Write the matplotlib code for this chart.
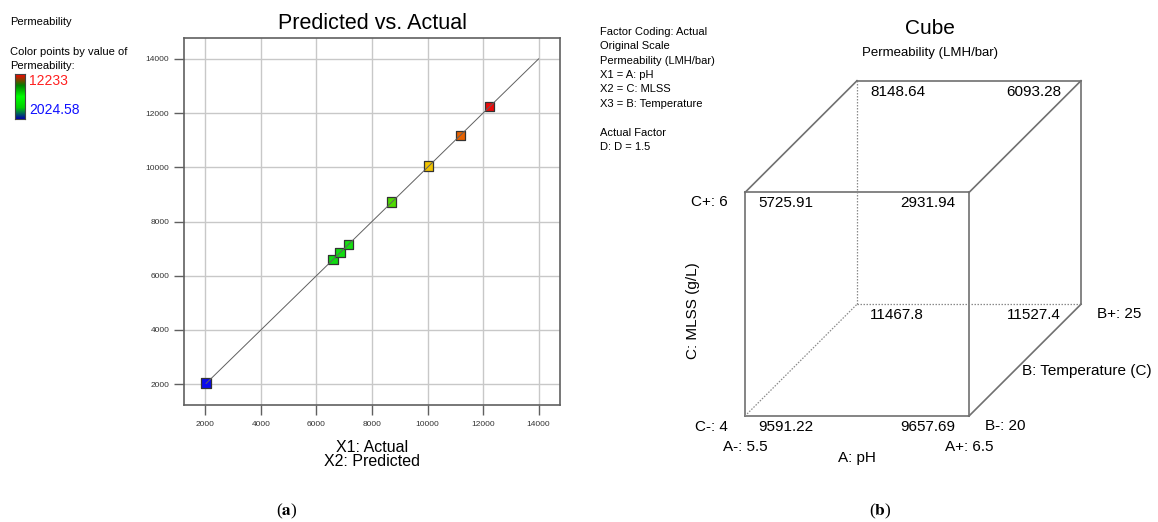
import numpy as np
import matplotlib
matplotlib.use("Agg")
import matplotlib.pyplot as plt
from matplotlib.colors import LinearSegmentedColormap, Normalize

plt.rcParams['font.family'] = ['Liberation Sans', 'DejaVu Sans']
plt.rcParams['mathtext.fontset'] = 'stix'

W, H = 1158, 522

# Predicted vs. Actual (Permeability, LMH/bar)
actual = [2024.58, 6596, 6848, 7148, 8708, 10028, 11180, 12233]
predicted = [2049, 6591, 6850, 7158, 8721, 10051, 11183, 12243]
ticks = [2000, 4000, 6000, 8000, 10000, 12000, 14000]
perm_min, perm_max = 2024.58, 12233

# Cube corners: levels 0 = low, 1 = high
cube_a = [0, 1, 0, 1, 0, 1, 0, 1]
cube_b = [0, 0, 0, 0, 1, 1, 1, 1]
cube_c = [0, 0, 1, 1, 0, 0, 1, 1]
cube_vals = ['9591.22', '9657.69', '5725.91', '2931.94',
             '11467.8', '11527.4', '8148.64', '6093.28']

info_lines = ['Factor Coding: Actual', 'Original Scale', 'Permeability (LMH/bar)',
              'X1 = A: pH', 'X2 = C: MLSS', 'X3 = B: Temperature', '',
              'Actual Factor', 'D: D = 1.5']


def fx(px):
    return px / W


def fy(py):
    return 1 - py / H


fig = plt.figure(figsize=(W / 100, H / 100), dpi=100)

# ---------- (a) Predicted vs. Actual ----------
pt_cmap = LinearSegmentedColormap.from_list('pts', [
    (0.0, '#0a0aee'), (0.45, '#10dc10'), (0.52, '#18e010'),
    (0.66, '#50dc00'), (0.78, '#f2c800'), (0.9, '#e86000'), (1.0, '#ee0a0a')])
norm = Normalize(perm_min, perm_max)

ax = fig.add_axes([fx(184), fy(405), fx(560) - fx(184), fy(38) - fy(405)])
ax.set_xlim(1230, 14770)
ax.set_ylim(1230, 14770)
ax.set_xticks(ticks)
ax.set_yticks(ticks)
ax.grid(True, color='#c8c8c8', lw=1)
ax.set_axisbelow(True)
for s in ax.spines.values():
    s.set_color('#606060')
    s.set_linewidth(1.2)
ax.tick_params(length=7, width=1, color='#606060', labelsize=6,
               labelcolor='#333333', pad=3.5)
ax.tick_params(axis='x', pad=4.5)

ax.scatter(actual, predicted, c=[pt_cmap(norm(v)) for v in actual], marker='s',
           s=46, edgecolors='#333333', linewidths=0.9, zorder=3)
ax.plot([min(actual), ticks[-1]], [min(actual), ticks[-1]], color='#606060',
        lw=0.7, zorder=4)

fig.text(fx(372), fy(24), 'Predicted vs. Actual', ha='center', va='center',
         fontsize=15.5)
fig.text(fx(372), fy(447), 'X1: Actual', ha='center', va='center', fontsize=11.5)
fig.text(fx(372), fy(462), 'X2: Predicted', ha='center', va='center', fontsize=11.5)

# legend on the left
fig.text(fx(10), fy(22), 'Permeability', ha='left', va='center', fontsize=8)
fig.text(fx(10), fy(52), 'Color points by value of', ha='left', va='center', fontsize=8)
fig.text(fx(10), fy(66), 'Permeability:', ha='left', va='center', fontsize=8)
cax = fig.add_axes([fx(15), fy(119), fx(25) - fx(15), fy(74) - fy(119)])
bar_cmap = LinearSegmentedColormap.from_list('bar', [
    '#0000a8', '#00d000', '#00ff00', '#008000', '#ff0000'])
cax.imshow(np.linspace(1, 0, 100)[:, None], aspect='auto', cmap=bar_cmap)
cax.set_xticks([])
cax.set_yticks([])
for s in cax.spines.values():
    s.set_color('#444444')
    s.set_linewidth(0.8)
fig.text(fx(29), fy(81), f'{perm_max:g}', ha='left', va='center', fontsize=10,
         color='#ff2020')
fig.text(fx(29), fy(110), f'{perm_min:g}', ha='left', va='center', fontsize=10,
         color='#1010ff')

# ---------- (b) Cube ----------
for i, line in enumerate(info_lines):
    fig.text(fx(600), fy(31.7 + 14.45 * i), line, ha='left', va='center', fontsize=8)

fig.text(fx(930), fy(29), 'Cube', ha='center', va='center', fontsize=15)
fig.text(fx(930), fy(53), 'Permeability (LMH/bar)', ha='center', va='center',
         fontsize=9.5)

cx = fig.add_axes([fx(745), fy(416), fx(1081) - fx(745), fy(80.7) - fy(416)])
cx.set_xlim(0, 1.5)
cx.set_ylim(0, 1.5)
cx.axis('off')

px = [a + 0.5 * b for a, b in zip(cube_a, cube_b)]
py = [c + 0.5 * b for c, b in zip(cube_c, cube_b)]
hidden = [i for i in range(8) if cube_a[i] == 0 and cube_b[i] == 1 and cube_c[i] == 0][0]
for i in range(8):
    for j in range(i + 1, 8):
        diff = abs(cube_a[i] - cube_a[j]) + abs(cube_b[i] - cube_b[j]) + abs(cube_c[i] - cube_c[j])
        if diff != 1:
            continue
        if hidden in (i, j):
            cx.plot([px[i], px[j]], [py[i], py[j]], color='#8a8a8a', lw=0.9,
                    ls=(0, (1.2, 1.2)), clip_on=False)
        else:
            cx.plot([px[i], px[j]], [py[i], py[j]], color='#707070', lw=1.2,
                    clip_on=False, solid_capstyle='projecting')

for i in range(8):
    if cube_a[i] == 0:
        dx, ha = 13, 'left'
    else:
        dx, ha = (-14 if cube_b[i] == 0 else -20), 'right'
    cx.annotate(cube_vals[i], (px[i], py[i]), xytext=(dx, -11),
                textcoords='offset pixels', ha=ha, va='center', fontsize=11,
                annotation_clip=False)

kw = dict(textcoords='offset pixels', fontsize=11, va='center', annotation_clip=False)
cx.annotate('C+: 6', (0, 1), xytext=(-17, -10), ha='right', **kw)
cx.annotate('C-: 4', (0, 0), xytext=(-17, -11), ha='right', **kw)
cx.annotate('A-: 5.5', (0, 0), xytext=(0, -31), ha='center', **kw)
cx.annotate('A+: 6.5', (1, 0), xytext=(0, -31), ha='center', **kw)
cx.annotate('A: pH', (0.5, 0), xytext=(0, -42), ha='center', **kw)
cx.annotate('B-: 20', (1, 0), xytext=(16, -10), ha='left', **kw)
cx.annotate('B+: 25', (1.5, 0.5), xytext=(16, -10), ha='left', **kw)
cx.annotate('B: Temperature (C)', (1.25, 0.25), xytext=(-3, -11), ha='left', **kw)
cx.annotate('C: MLSS (g/L)', (0, 0.5), xytext=(-52, -6), ha='center',
            rotation=90, **kw)

# panel letters
fig.text(fx(287), fy(511), r'($\mathbf{a}$)', ha='center', va='center',
         fontsize=12.5, family='Liberation Serif')
fig.text(fx(880), fy(511), r'($\mathbf{b}$)', ha='center', va='center',
         fontsize=12.5, family='Liberation Serif')

fig.savefig('out.png', dpi=100)
